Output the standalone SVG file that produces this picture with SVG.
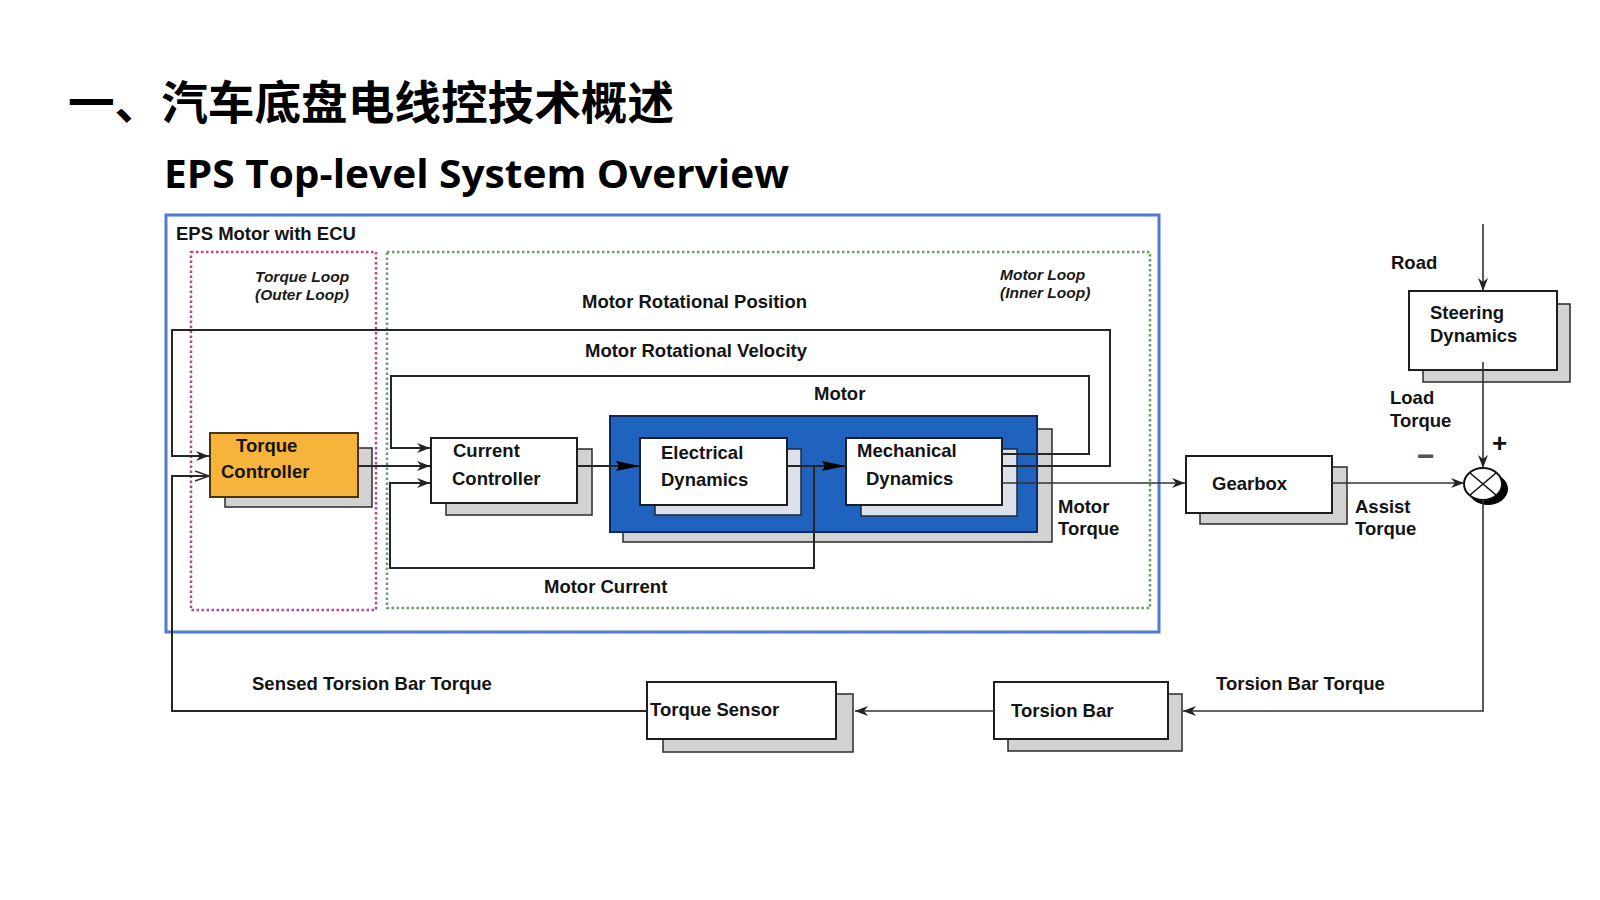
<svg xmlns="http://www.w3.org/2000/svg" width="1600" height="900" viewBox="0 0 1600 900">
<style>
.lbl{font-family:"Liberation Sans",Arial,sans-serif;font-weight:bold;font-size:18.5px;fill:#141414}
.it{font-family:"Liberation Sans",Arial,sans-serif;font-weight:bold;font-style:italic;font-size:15.5px;fill:#1a1a1a}
.box{fill:#fff;stroke:#1e1e1e;stroke-width:2}
.shd{fill:#d2d2d2;stroke:#2a2a2a;stroke-width:1.5}
.shdb{fill:#dde2ea;stroke:#1a2a40;stroke-width:1.5}
.ln{fill:none;stroke:#262626;stroke-width:2}
.ln2{fill:none;stroke:#333;stroke-width:1.6}
</style>
<defs>
<marker id="arr" viewBox="0 0 13 10" refX="13" refY="5" markerWidth="13" markerHeight="10" markerUnits="userSpaceOnUse" orient="auto"><path d="M0,0 L13,5 L0,10 L4,5 z" fill="#222"/></marker>
<marker id="arrBig" viewBox="0 0 24 12" refX="24" refY="6" markerWidth="24" markerHeight="12" markerUnits="userSpaceOnUse" orient="auto"><path d="M0,1 L24,6 L0,11 L3,6 z" fill="#000"/></marker>
<marker id="arrOpen" viewBox="0 0 16 12" refX="15" refY="6" markerWidth="16" markerHeight="12" markerUnits="userSpaceOnUse" orient="auto"><path d="M1,1 L15,6 L1,11" fill="none" stroke="#333" stroke-width="1.6"/></marker>
</defs>
<rect width="1600" height="900" fill="#fff"/>

<text x="68" y="119" font-family="'Noto Sans CJK SC',sans-serif" font-weight="bold" font-size="46" fill="#000" textLength="606" lengthAdjust="spacingAndGlyphs">一、汽车底盘电线控技术概述</text>
<text x="164" y="188" font-family="'Open Sans','Noto Sans',sans-serif" font-weight="bold" font-size="39" fill="#000" textLength="625" lengthAdjust="spacingAndGlyphs">EPS Top-level System Overview</text>

<g id="ecu">
<rect x="166" y="215" width="993" height="417" fill="none" stroke="#4f7bd0" stroke-width="3"/>
<text class="lbl" x="176" y="240">EPS Motor with ECU</text>
</g>
<g id="torque-loop">
<rect x="191" y="252" width="185" height="358" fill="none" stroke="#c8408c" stroke-width="2.5" stroke-dasharray="2.5,2.5"/>
<text class="it" x="255" y="282">Torque Loop</text>
<text class="it" x="255" y="300">(Outer Loop)</text>
</g>
<g id="motor-loop">
<rect x="387" y="252" width="763" height="356" fill="none" stroke="#62a462" stroke-width="2.5" stroke-dasharray="2.5,2.5"/>
<text class="it" x="1000" y="280">Motor Loop</text>
<text class="it" x="1000" y="298">(Inner Loop)</text>
</g>

<g id="torque-controller">
<rect x="225" y="448" width="147" height="59" class="shd"/>
<rect x="210" y="433" width="148" height="64" fill="#f6b43c" stroke="#4a3410" stroke-width="2"/>
<text class="lbl" x="236" y="452" fill="#3a2608">Torque</text>
<text class="lbl" x="221" y="478" fill="#3a2608">Controller</text>
</g>
<g id="current-controller">
<rect x="446" y="449" width="146" height="66" class="shd"/>
<rect x="431" y="438" width="146" height="65" class="box"/>
<text class="lbl" x="453" y="457">Current</text>
<text class="lbl" x="452" y="485">Controller</text>
</g>
<g id="motor">
<rect x="623" y="429" width="429" height="113" class="shd"/>
<rect x="610" y="416" width="427" height="116" fill="#1f63bf" stroke="#0c2a5a" stroke-width="2"/>
<text class="lbl" x="814" y="400">Motor</text>
</g>
<g id="electrical-dynamics">
<rect x="655" y="449" width="146" height="66" class="shdb"/>
<rect x="640" y="438" width="147" height="67" class="box"/>
<text class="lbl" x="661" y="459">Electrical</text>
<text class="lbl" x="661" y="486">Dynamics</text>
</g>
<g id="mechanical-dynamics">
<rect x="861" y="449" width="156" height="67" class="shdb"/>
<rect x="846" y="438" width="156" height="67" class="box"/>
<text class="lbl" x="857" y="457">Mechanical</text>
<text class="lbl" x="866" y="485">Dynamics</text>
</g>
<g id="gearbox">
<rect x="1200" y="467" width="147" height="57" class="shd"/>
<rect x="1186" y="456" width="146" height="57" class="box"/>
<text class="lbl" x="1212" y="490">Gearbox</text>
</g>
<g id="steering-dynamics">
<rect x="1423" y="304" width="147" height="78" class="shd"/>
<rect x="1409" y="291" width="148" height="79" class="box"/>
<text class="lbl" x="1430" y="319">Steering</text>
<text class="lbl" x="1430" y="342">Dynamics</text>
</g>
<g id="sum-junction">
<ellipse cx="1488" cy="489" rx="20" ry="16" fill="#000"/>
<ellipse cx="1483" cy="484" rx="19" ry="16" fill="#fff" stroke="#111" stroke-width="2"/>
<path d="M1470,473 L1496,495 M1496,473 L1470,495" stroke="#111" stroke-width="1.6"/>
<text x="1417" y="466" font-family="'Liberation Sans',Arial,sans-serif" font-weight="bold" font-size="30" fill="#555">−</text>
<text x="1492" y="452" font-family="'Liberation Sans',Arial,sans-serif" font-weight="bold" font-size="26" fill="#111">+</text>
</g>
<g id="torsion-bar">
<rect x="1008" y="694" width="174" height="57" class="shd"/>
<rect x="994" y="682" width="174" height="57" class="box"/>
<text class="lbl" x="1011" y="717">Torsion Bar</text>
</g>
<g id="torque-sensor">
<rect x="663" y="694" width="190" height="58" class="shd"/>
<rect x="647" y="682" width="189" height="57" class="box"/>
<text class="lbl" x="650" y="716">Torque Sensor</text>
</g>

<g id="connectors">
<path class="ln" d="M1002,466 H1110 V330 H172 V456 H209" marker-end="url(#arr)"/>
<path class="ln" d="M1002,454 H1089 V376 H391 V448 H430" marker-end="url(#arr)"/>
<path class="ln" d="M358,466 H430" marker-end="url(#arr)"/>
<path class="ln" d="M814,466 V568 H390 V483 H430" marker-end="url(#arr)"/>
<path class="ln" d="M577,466 H640" marker-end="url(#arrBig)"/>
<path class="ln" d="M787,466 H846" marker-end="url(#arrBig)"/>
<path class="ln2" d="M1002,483 H1185" marker-end="url(#arr)"/>
<path class="ln2" d="M1332,483 H1464" marker-end="url(#arr)"/>
<path class="ln2" d="M1483,224 V291" marker-end="url(#arr)"/>
<path class="ln2" d="M1483,362 V468" marker-end="url(#arr)"/>
<path class="ln2" d="M1483,500 V711 H1183" marker-end="url(#arr)"/>
<path class="ln2" d="M994,711 H855" marker-end="url(#arr)"/>
<path class="ln" d="M647,711 H172 V476 H209" marker-end="url(#arrOpen)"/>
</g>

<g id="labels">
<text class="lbl" x="582" y="308">Motor Rotational Position</text>
<text class="lbl" x="585" y="357">Motor Rotational Velocity</text>
<text class="lbl" x="544" y="593">Motor Current</text>
<text class="lbl" x="1058" y="513">Motor</text>
<text class="lbl" x="1058" y="535">Torque</text>
<text class="lbl" x="1355" y="513">Assist</text>
<text class="lbl" x="1355" y="535">Torque</text>
<text class="lbl" x="1391" y="269">Road</text>
<text class="lbl" x="1390" y="404">Load</text>
<text class="lbl" x="1390" y="427">Torque</text>
<text class="lbl" x="252" y="690">Sensed Torsion Bar Torque</text>
<text class="lbl" x="1216" y="690">Torsion Bar Torque</text>
</g>
</svg>
